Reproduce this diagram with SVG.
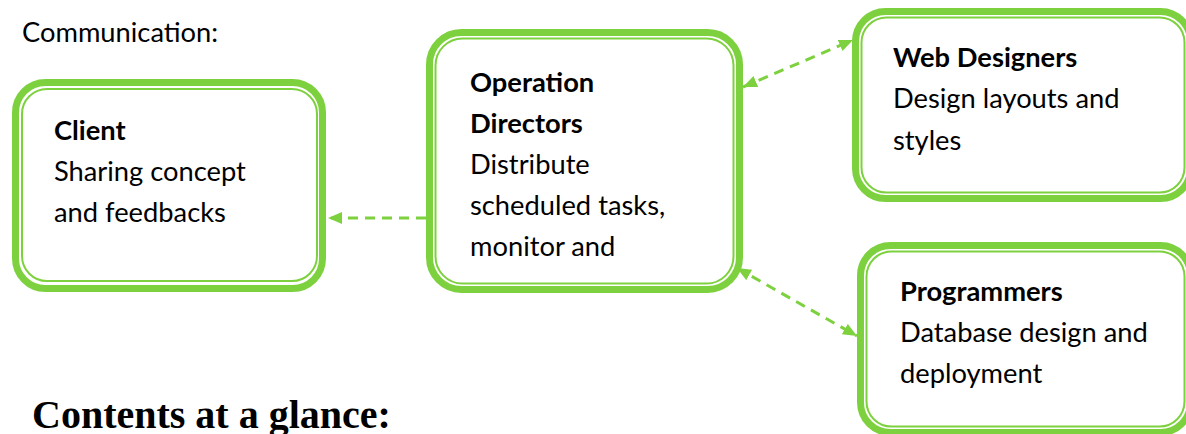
<svg xmlns="http://www.w3.org/2000/svg" width="1186" height="434" viewBox="0 0 1186 434">
<style>
.outer{fill:#fff;stroke:#7ED13E;stroke-width:7}
.inner{fill:none;stroke:#7ED13E;stroke-width:2}
.t{font-family:Lato,"Open Sans",sans-serif;font-size:27.3px;fill:#000}
.b{font-weight:bold}
.conn{stroke:#7ED13E;stroke-width:3;stroke-dasharray:10 7;fill:none}
</style>
<defs>
<marker id="ah" viewBox="0 0 14 12" refX="14" refY="6" markerWidth="14" markerHeight="12" markerUnits="userSpaceOnUse" orient="auto-start-reverse">
<path d="M0,0 L14,6 L0,12 z" fill="#7ED13E"/>
</marker>
</defs>
<rect width="1186" height="434" fill="#fff"/>
<text class="t" x="22" y="42">Communication:</text>
<text x="32" y="428" style="font-family:'Liberation Serif',serif;font-size:40px;font-weight:bold">Contents at a glance:</text>
<g id="client">
<rect class="outer" x="15.5" y="82.5" width="307" height="206" rx="30"/>
<rect class="inner" x="22" y="89" width="295" height="192" rx="25"/>
<text class="t b" x="54" y="140">Client</text>
<text class="t" x="54" y="181">Sharing concept</text>
<text class="t" x="54" y="222">and feedbacks</text>
</g>
<g id="operation-directors">
<rect class="outer" x="429.5" y="32.5" width="310" height="257" rx="32"/>
<rect class="inner" x="435.5" y="38.5" width="298" height="245" rx="27"/>
<text class="t b" x="470" y="92">Operation</text>
<text class="t b" x="470" y="133">Directors</text>
<text class="t" x="470" y="174">Distribute</text>
<text class="t" x="470" y="215">scheduled tasks,</text>
<text class="t" x="470" y="256">monitor and</text>
</g>
<g id="web-designers">
<rect class="outer" x="855.5" y="11.5" width="335" height="187" rx="30"/>
<rect class="inner" x="861.5" y="17.5" width="323" height="175" rx="25"/>
<text class="t b" x="893" y="67">Web Designers</text>
<text class="t" x="893" y="108">Design layouts and</text>
<text class="t" x="893" y="150">styles</text>
</g>
<g id="programmers">
<rect class="outer" x="860.5" y="245.5" width="330" height="187" rx="30"/>
<rect class="inner" x="866.5" y="251.5" width="318" height="175" rx="25"/>
<text class="t b" x="900" y="301">Programmers</text>
<text class="t" x="900" y="342">Database design and</text>
<text class="t" x="900" y="383">deployment</text>
</g>
<g id="connectors">
<line class="conn" x1="426" y1="218" x2="328" y2="218" marker-end="url(#ah)"/>
<line class="conn" x1="743" y1="87" x2="853" y2="40" marker-start="url(#ah)" marker-end="url(#ah)"/>
<line class="conn" x1="737" y1="268" x2="857" y2="336" marker-start="url(#ah)" marker-end="url(#ah)"/>
</g>
</svg>
